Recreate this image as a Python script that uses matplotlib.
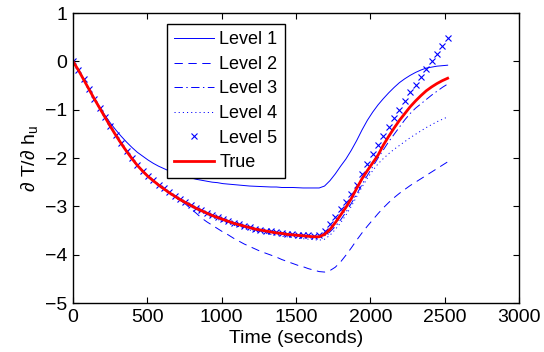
import matplotlib
matplotlib.use("Agg")
import matplotlib.pyplot as plt
import numpy as np

plt.rcParams['font.family'] = ['Liberation Sans', 'DejaVu Sans']
plt.rcParams['mathtext.fontset'] = 'custom'
plt.rcParams['mathtext.rm'] = 'Liberation Sans'
plt.rcParams['mathtext.it'] = 'Liberation Sans'
plt.rcParams['lines.scale_dashes'] = False

# time grid (seconds)
time_s = np.arange(0, 2521, 36)

true_vals = [
    0.00, -0.18, -0.38, -0.58, -0.78, -0.97, -1.16, -1.35, -1.53, -1.70,
    -1.86, -2.01, -2.15, -2.27, -2.38, -2.47, -2.56, -2.64, -2.72, -2.79,
    -2.86, -2.92, -2.98, -3.04, -3.09, -3.14, -3.19, -3.23, -3.27, -3.31,
    -3.35, -3.38, -3.41, -3.44, -3.47, -3.49, -3.51, -3.53, -3.55, -3.56,
    -3.58, -3.59, -3.60, -3.61, -3.62, -3.63, -3.63, -3.58, -3.48, -3.34,
    -3.18, -3.02, -2.84, -2.63, -2.43, -2.26, -2.10, -1.94, -1.73, -1.55,
    -1.38, -1.22, -1.08, -0.94, -0.82, -0.71, -0.61, -0.53, -0.46, -0.40,
    -0.35]

level1 = [
    0.00, -0.18, -0.38, -0.58, -0.77, -0.95, -1.12, -1.28, -1.42, -1.55,
    -1.67, -1.78, -1.88, -1.96, -2.04, -2.11, -2.17, -2.22, -2.27, -2.31,
    -2.35, -2.38, -2.41, -2.44, -2.46, -2.48, -2.50, -2.51, -2.53, -2.54,
    -2.55, -2.56, -2.57, -2.58, -2.585, -2.59, -2.595, -2.60, -2.60, -2.61,
    -2.61, -2.61, -2.615, -2.62, -2.62, -2.62, -2.62, -2.58, -2.47, -2.33,
    -2.17, -2.02, -1.84, -1.64, -1.42, -1.22, -1.05, -0.90, -0.77, -0.65,
    -0.54, -0.44, -0.36, -0.29, -0.23, -0.18, -0.14, -0.12, -0.10, -0.09,
    -0.08]

level2 = [
    0.00, -0.18, -0.38, -0.58, -0.78, -0.97, -1.16, -1.35, -1.53, -1.70,
    -1.86, -2.01, -2.15, -2.27, -2.38, -2.47, -2.56, -2.64, -2.72, -2.79,
    -2.87, -2.95, -3.05, -3.14, -3.24, -3.32, -3.39, -3.46, -3.53, -3.59,
    -3.66, -3.72, -3.78, -3.83, -3.88, -3.93, -3.97, -4.01, -4.05, -4.10,
    -4.14, -4.18, -4.22, -4.25, -4.29, -4.32, -4.35, -4.36, -4.33, -4.26,
    -4.15, -4.01, -3.86, -3.70, -3.55, -3.41, -3.28, -3.15, -3.03, -2.92,
    -2.82, -2.73, -2.65, -2.57, -2.50, -2.43, -2.36, -2.29, -2.22, -2.15,
    -2.08]

level3 = [
    0.00, -0.18, -0.38, -0.58, -0.78, -0.97, -1.16, -1.35, -1.53, -1.70,
    -1.86, -2.01, -2.15, -2.27, -2.38, -2.47, -2.56, -2.64, -2.72, -2.79,
    -2.86, -2.92, -2.98, -3.04, -3.09, -3.14, -3.19, -3.23, -3.27, -3.31,
    -3.35, -3.38, -3.41, -3.44, -3.47, -3.49, -3.51, -3.53, -3.55, -3.57,
    -3.58, -3.59, -3.60, -3.61, -3.62, -3.63, -3.64, -3.61, -3.53, -3.42,
    -3.28, -3.12, -2.94, -2.75, -2.55, -2.36, -2.18, -2.00, -1.83, -1.66,
    -1.51, -1.36, -1.21, -1.08, -0.97, -0.88, -0.79, -0.70, -0.62, -0.54,
    -0.47]

level4 = [
    0.00, -0.18, -0.38, -0.58, -0.78, -0.97, -1.16, -1.35, -1.53, -1.70,
    -1.86, -2.01, -2.15, -2.28, -2.39, -2.49, -2.58, -2.66, -2.74, -2.81,
    -2.88, -2.95, -3.01, -3.07, -3.12, -3.17, -3.22, -3.27, -3.31, -3.35,
    -3.39, -3.42, -3.46, -3.49, -3.52, -3.54, -3.56, -3.58, -3.60, -3.62,
    -3.63, -3.64, -3.66, -3.67, -3.68, -3.69, -3.70, -3.68, -3.60, -3.48,
    -3.34, -3.18, -3.00, -2.80, -2.60, -2.42, -2.26, -2.12, -2.01, -1.91,
    -1.82, -1.74, -1.66, -1.58, -1.51, -1.44, -1.37, -1.31, -1.25, -1.20,
    -1.15]

level5 = [
    0.00, -0.17, -0.37, -0.57, -0.77, -0.96, -1.15, -1.34, -1.52, -1.69,
    -1.85, -2.00, -2.14, -2.26, -2.37, -2.46, -2.55, -2.63, -2.71, -2.78,
    -2.85, -2.91, -2.97, -3.03, -3.08, -3.13, -3.18, -3.22, -3.26, -3.30,
    -3.34, -3.37, -3.40, -3.43, -3.46, -3.48, -3.50, -3.52, -3.54, -3.55,
    -3.57, -3.58, -3.59, -3.60, -3.60, -3.61, -3.60, -3.50, -3.37, -3.22,
    -3.06, -2.92, -2.74, -2.55, -2.33, -2.12, -1.92, -1.73, -1.54, -1.36,
    -1.18, -1.00, -0.82, -0.64, -0.48, -0.32, -0.16, 0.00, 0.16, 0.32,
    0.48]

labels = ['Level 1', 'Level 2', 'Level 3', 'Level 4', 'Level 5', 'True']
xticks = [0, 500, 1000, 1500, 2000, 2500, 3000]
yticks = [-5, -4, -3, -2, -1, 0, 1]

fig = plt.figure(figsize=(5.44, 3.52), dpi=100)
ax = fig.add_axes([73/544, 49/352, 446/544, 290/352])

blue = (0, 0, 1)
ax.plot(time_s, level1, color=blue, lw=0.7, label=labels[0])
ax.plot(time_s, level2, color=blue, lw=0.7, dashes=(6, 4), label=labels[1])
ax.plot(time_s, level3, color=blue, lw=0.7, dashes=(6, 2.5, 1, 2.5), label=labels[2])
ax.plot(time_s, level4, color=blue, lw=0.7, dashes=(0.8, 2.2), label=labels[3])
ax.plot(time_s, level5, color=blue, lw=0, marker='x', ms=4, mew=0.8, label=labels[4])
ax.plot(time_s, true_vals, color=(1, 0, 0), lw=2.0, label=labels[5])

ax.set_xlim(0, 3000)
ax.set_ylim(-5, 1)
ax.set_xticks(xticks)
ax.set_yticks(yticks)
ax.tick_params(direction='in', length=4, width=0.8, labelsize=14,
               top=True, right=True, pad=4)
for s in ax.spines.values():
    s.set_linewidth(1.0)

ax.set_xlabel('Time (seconds)', fontsize=14, labelpad=3)
ax.set_ylabel(r'∂ T/∂ h$_\mathregular{u}$', fontsize=14, labelpad=4)

leg = ax.legend(loc='upper left', bbox_to_anchor=(0.211, 0.962), borderaxespad=0,
                fontsize=13, frameon=True, fancybox=False, framealpha=1,
                edgecolor='black', handlelength=2.2, handletextpad=0.3,
                labelspacing=0.42, borderpad=0.4)
leg.get_frame().set_linewidth(1.0)

fig.savefig('out.png', dpi=100)
